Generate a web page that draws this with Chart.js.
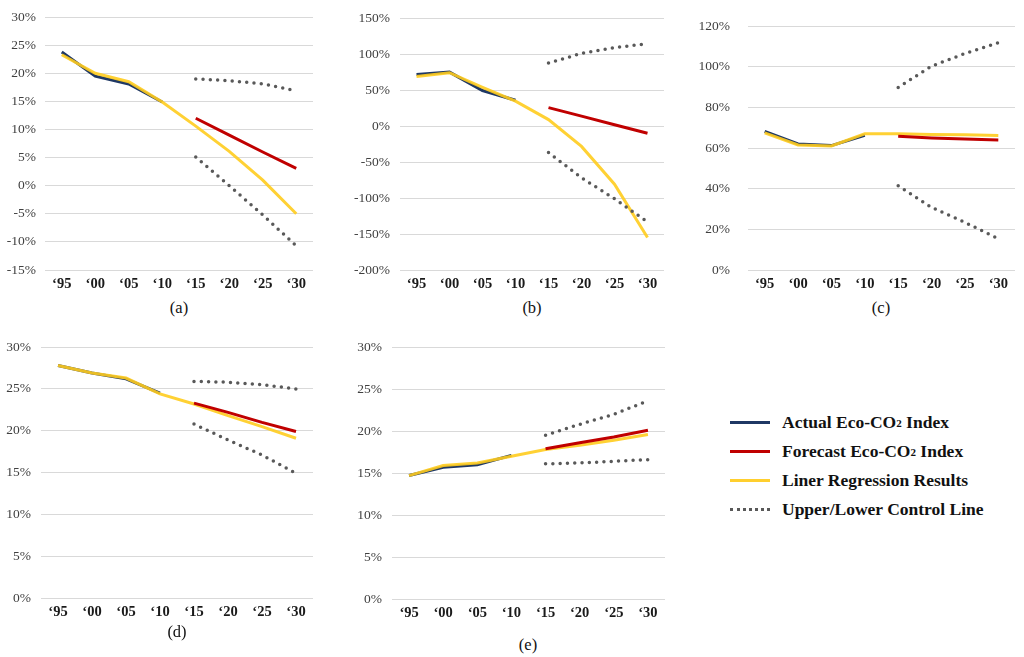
<!DOCTYPE html>
<html><head><meta charset="utf-8">
<script src="https://cdn.jsdelivr.net/npm/chart.js@4"></script>
<style>
body{margin:0;background:#fff;width:1024px;height:657px;position:relative;overflow:hidden;font-family:"Liberation Serif","Times New Roman",serif}
canvas{position:absolute}
.cap{position:absolute;font-size:16.5px;color:#111;transform:translate(-50%,-50%);white-space:nowrap}
.legend{position:absolute;left:730px;top:408px;font-weight:bold;font-size:17.5px;color:#111}
.row{height:29px;display:flex;align-items:center;white-space:nowrap}
.sw{width:40px;margin-right:12px;height:0;border-top:3px solid}
.sw.dot{border-top:3.5px dotted #595959}
sub{font-size:11px;vertical-align:-4px;line-height:0}
</style></head>
<body>
<canvas id="ca"></canvas><canvas id="cb"></canvas><canvas id="cc"></canvas><canvas id="cd"></canvas><canvas id="ce"></canvas>
<div class="cap" style="left:179px;top:308px">(a)</div>
<div class="cap" style="left:532px;top:308px">(b)</div>
<div class="cap" style="left:881px;top:308px">(c)</div>
<div class="cap" style="left:177px;top:632px">(d)</div>
<div class="cap" style="left:528px;top:645px">(e)</div>
<div class="legend">
 <div class="row"><span class="sw" style="border-color:#1f3864"></span>Actual Eco-CO<sub>2</sub>&nbsp;Index</div>
 <div class="row"><span class="sw" style="border-color:#c00000"></span>Forecast Eco-CO<sub>2</sub>&nbsp;Index</div>
 <div class="row"><span class="sw" style="border-color:#ffcf2e"></span>Liner Regression Results</div>
 <div class="row"><span class="sw dot"></span>Upper/Lower Control Line</div>
</div>
<script>
// ---- data ----
const years = ["\u201895","\u201800","\u201805","\u201810","\u201815","\u201820","\u201825","\u201830"];
const seriesNames = ["Actual Eco-CO\u2082 Index","Forecast Eco-CO\u2082 Index","Liner Regression Results","Upper Control Line","Lower Control Line"];

// (a)
const actualA   = [23.8, 19.5, 18.1, 14.9, null, null, null, null];
const forecastA = [null, null, null, null, 12.0, 9.0, 6.0, 3.1];
const regressA  = [23.3, 20.0, 18.5, 14.9, 10.6, 6.1, 1.0, -5.0];
const upperA    = [null, null, null, null, 19.0, 18.7, 18.1, 16.9];
const lowerA    = [null, null, null, null, 5.1, 0.0, -5.2, -10.7];
// (b)
const actualB   = [71.8, 75.0, 49.4, 35.9, null, null, null, null];
const forecastB = [null, null, null, null, 25.6, 13.8, 1.9, -9.9];
const regressB  = [68.7, 74.1, 53.9, 34.6, 9.0, -28.3, -80.8, -154.9];
const upperB    = [null, null, null, null, 87.5, 101.0, 109.0, 114.5];
const lowerB    = [null, null, null, null, -36.8, -71.8, -101.0, -133.3];
// (c)
const actualC   = [68.2, 62.0, 61.2, 66.3, null, null, null, null];
const forecastC = [null, null, null, null, 65.8, 65.0, 64.4, 64.0];
const regressC  = [67.5, 61.5, 61.0, 67.0, 67.0, 66.7, 66.5, 66.2];
const upperC    = [null, null, null, null, 89.8, 100.3, 106.5, 111.8];
const lowerC    = [null, null, null, null, 41.4, 30.8, 23.4, 15.4];
// (d)
const actualD   = [27.8, 26.9, 26.2, 24.5, null, null, null, null];
const forecastD = [null, null, null, null, 23.3, 22.2, 21.0, 19.9];
const regressD  = [27.8, 26.9, 26.3, 24.4, 23.2, 21.8, 20.5, 19.1];
const upperD    = [null, null, null, null, 25.9, 25.8, 25.5, 25.0];
const lowerD    = [null, null, null, null, 20.8, 18.9, 17.1, 14.9];
// (e)
const actualE   = [14.7, 15.7, 16.0, 17.1, null, null, null, null];
const forecastE = [null, null, null, null, 17.9, 18.6, 19.3, 20.1];
const regressE  = [14.7, 15.9, 16.2, 17.0, 17.8, 18.3, 18.9, 19.6];
const upperE    = [null, null, null, null, 19.5, 20.8, 22.0, 23.6];
const lowerE    = [null, null, null, null, 16.1, 16.2, 16.4, 16.6];

// axis ranges [min, max, step]
const rangeA = [-15, 30, 5], rangeB = [-200, 150, 50], rangeC = [0, 120, 20], rangeD = [0, 30, 5], rangeE = [0, 30, 5];

// ---- drawing ----
const NAVY = '#1f3864', RED = '#c00000', YEL = 'rgba(255,204,30,0.9)', DOT = '#595959';

function sets(act, fc, reg, up, lo){
  const solid = (label, data, color, order) => ({label, data, order, borderColor: color, backgroundColor: color, borderWidth: 3, pointRadius: 0, tension: 0, spanGaps: false, fill: false});
  const dotted = (label, data) => ({label, data, order: 0, borderColor: DOT, backgroundColor: DOT, borderWidth: 3.5, borderDash: [0, 7.3], borderCapStyle: 'round', pointRadius: 0, fill: false});
  return [
    solid(seriesNames[0], act, NAVY, 3),
    solid(seriesNames[1], fc, RED, 1),
    solid(seriesNames[2], reg, YEL, 2),
    dotted(seriesNames[3], up),
    dotted(seriesNames[4], lo)
  ];
}

function panel(id, L, T, W, H, yW, padTop, padRight, tickPad, range, datasets){
  const c = document.getElementById(id);
  c.style.left = L + 'px'; c.style.top = T + 'px';
  c.width = W; c.height = H; c.style.width = W + 'px'; c.style.height = H + 'px';
  new Chart(c, {
    type: 'line',
    data: {labels: years, datasets},
    options: {
      responsive: false, animation: false, devicePixelRatio: 1,
      layout: {padding: {top: padTop, right: padRight, left: 0, bottom: 0}},
      plugins: {legend: {display: false}, tooltip: {enabled: false}},
      scales: {
        x: {
          offset: true,
          grid: {display: false, drawTicks: false},
          border: {display: false},
          ticks: {padding: 6, color: '#1a1a1a', font: {family: 'Liberation Serif', size: 14.5, weight: 'bold'}, maxRotation: 0, autoSkip: false},
          afterFit: s => { s.height = 28; }
        },
        y: {
          min: range[0], max: range[1],
          grid: {color: '#d9d9d9', lineWidth: 1, drawTicks: false},
          border: {display: false},
          ticks: {stepSize: range[2], padding: tickPad, color: '#404040', font: {family: 'Liberation Serif', size: 13.5}, callback: v => v + '%'},
          afterFit: s => { s.width = yW; }
        }
      }
    }
  });
}

panel('ca', 0,   0,   318, 298, 45, 2, 5, 9,  rangeA, sets(actualA, forecastA, regressA, upperA, lowerA));
panel('cb', 340, 0,   330, 298, 60, 2, 6, 10, rangeB, sets(actualB, forecastB, regressB, upperB, lowerB));
panel('cc', 690, 0,   331, 298, 58, 2, 6, 18, rangeC, sets(actualC, forecastC, regressC, upperC, lowerC));
panel('cd', 0,   329, 318, 297, 41, 2, 5, 10, rangeD, sets(actualD, forecastD, regressD, upperD, lowerD));
panel('ce', 340, 329, 331, 298, 52, 2, 6, 10, rangeE, sets(actualE, forecastE, regressE, upperE, lowerE));
</script>
</body></html>
